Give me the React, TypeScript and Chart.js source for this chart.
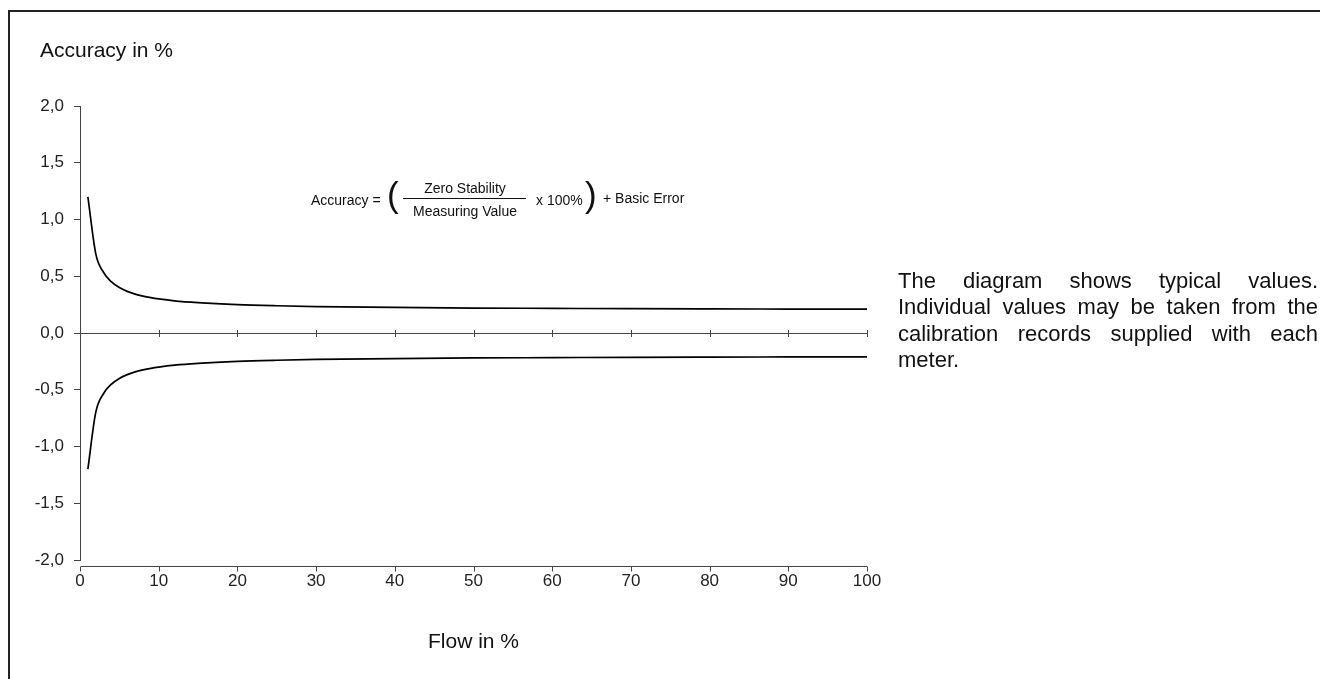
import React, { useEffect, useRef } from "react";
import { Chart, registerables } from "chart.js";

Chart.register(...registerables);

// ---- data ----
const flowPct = [1, 2, 3, 4, 5, 6, 7, 8, 9, 10, 12, 15, 20, 25, 30, 40, 50, 60, 70, 80, 90, 100];
const upperAccuracy = [1.2, 0.7, 0.533, 0.45, 0.4, 0.367, 0.343, 0.325, 0.311, 0.3, 0.283, 0.267, 0.25, 0.24, 0.233, 0.225, 0.22, 0.217, 0.214, 0.212, 0.211, 0.21];
const lowerAccuracy = [-1.2, -0.7, -0.533, -0.45, -0.4, -0.367, -0.343, -0.325, -0.311, -0.3, -0.283, -0.267, -0.25, -0.24, -0.233, -0.225, -0.22, -0.217, -0.214, -0.212, -0.211, -0.21];
const xTickValues = [0, 10, 20, 30, 40, 50, 60, 70, 80, 90, 100];
const yTickValues = [-2, -1.5, -1, -0.5, 0, 0.5, 1, 1.5, 2];
const yAxisTitle = "Accuracy in %";
const xAxisTitle = "Flow in %";
const noteText =
  "The diagram shows typical values. Individual values may be taken from the calibration records supplied with each meter.";

const FONT = '"Liberation Sans", Arial, Helvetica, sans-serif';

const excelAxesPlugin = {
  id: "excelAxes",
  afterDraw(chart: any) {
    const { ctx, chartArea, scales } = chart;
    const xs = scales.x;
    const ys = scales.y;
    ctx.save();
    ctx.strokeStyle = "#444";
    ctx.lineWidth = 1;
    ctx.beginPath();
    // zero axis with crossing ticks
    const y0 = Math.round(ys.getPixelForValue(0)) + 0.5;
    ctx.moveTo(chartArea.left, y0);
    ctx.lineTo(chartArea.right, y0);
    xs.ticks.forEach((t: any) => {
      const px = Math.round(xs.getPixelForValue(t.value)) + 0.5;
      ctx.moveTo(px, y0 - 3.5);
      ctx.lineTo(px, y0 + 3.5);
    });
    // bottom category axis, slightly detached from the value axis
    const yb = Math.round(chartArea.bottom) + 6.5;
    ctx.moveTo(chartArea.left + 1, yb);
    ctx.lineTo(chartArea.right, yb);
    xs.ticks.forEach((t: any) => {
      const px = Math.round(xs.getPixelForValue(t.value)) + 0.5;
      ctx.moveTo(px, yb);
      ctx.lineTo(px, yb + 5);
    });
    ctx.stroke();
    ctx.restore();
  },
};

function fmt(v: number) {
  return v.toFixed(1).replace(".", ",");
}

export default function App() {
  const canvasRef = useRef<HTMLCanvasElement | null>(null);

  useEffect(() => {
    if (!canvasRef.current) return;
    Chart.defaults.font.family = FONT;
    const chart = new Chart(canvasRef.current, {
      type: "line",
      data: {
        datasets: [
          {
            label: "upper",
            data: flowPct.map((x, i) => ({ x, y: upperAccuracy[i] })),
            borderColor: "#000",
            borderWidth: 1.7,
            pointRadius: 0,
            cubicInterpolationMode: "monotone",
            fill: false,
          },
          {
            label: "lower",
            data: flowPct.map((x, i) => ({ x, y: lowerAccuracy[i] })),
            borderColor: "#000",
            borderWidth: 1.7,
            pointRadius: 0,
            cubicInterpolationMode: "monotone",
            fill: false,
          },
        ],
      },
      options: {
        animation: false,
        responsive: false,
        events: [],
        layout: { padding: { left: 0, top: 106, right: 453, bottom: 24 } },
        plugins: {
          legend: { display: false },
          tooltip: { enabled: false },
          title: { display: false },
        },
        scales: {
          x: {
            type: "linear",
            min: 0,
            max: 100,
            afterBuildTicks: (s: any) => {
              s.ticks = xTickValues.map((v) => ({ value: v }));
            },
            afterFit: (s: any) => {
              s.height = 95;
            },
            grid: { display: false, drawTicks: false },
            border: { display: false },
            ticks: {
              color: "#222",
              font: { family: FONT, size: 17 },
              padding: 11,
              maxRotation: 0,
              autoSkip: false,
            },
            title: {
              display: true,
              text: xAxisTitle,
              color: "#111",
              font: { family: FONT, size: 21 },
              padding: { top: 0, bottom: 0 },
            },
          },
          y: {
            type: "linear",
            min: -2,
            max: 2,
            afterBuildTicks: (s: any) => {
              s.ticks = yTickValues.map((v) => ({ value: v }));
            },
            afterFit: (s: any) => {
              s.width = 80;
            },
            grid: { display: true, drawOnChartArea: false, drawTicks: true, tickLength: 6, color: "#444" },
            border: { display: true, color: "#444", width: 1 },
            ticks: {
              color: "#222",
              font: { family: FONT, size: 17 },
              padding: 10,
              callback: (v: any) => fmt(Number(v)),
            },
          },
        },
      },
      plugins: [excelAxesPlugin],
    } as any);
    return () => chart.destroy();
  }, []);

  const txt = (extra: React.CSSProperties): React.CSSProperties => ({
    position: "absolute",
    fontFamily: FONT,
    color: "#111",
    whiteSpace: "nowrap",
    ...extra,
  });

  return (
    <div
      style={{
        position: "fixed",
        left: 0,
        top: 0,
        width: 1320,
        height: 679,
        overflow: "hidden",
        background: "#fff",
      }}
    >
      <div
        style={{
          position: "absolute",
          left: 8,
          top: 10,
          width: 1400,
          height: 800,
          border: "2px solid #222",
          boxSizing: "border-box",
        }}
      />
      <canvas
        ref={canvasRef}
        width={1320}
        height={679}
        style={{ position: "absolute", left: 0, top: 0, width: 1320, height: 679, display: "block" }}
      />
      <div style={txt({ left: 40, top: 37, fontSize: 21, lineHeight: "25px" })}>{yAxisTitle}</div>

      {/* formula */}
      <div style={txt({ left: 311, top: 192, fontSize: 14, lineHeight: "16px" })}>Accuracy =</div>
      <div style={txt({ left: 387, top: 175, fontSize: 35, lineHeight: "40px" })}>(</div>
      <div style={txt({ left: 403, top: 180, width: 124, textAlign: "center", fontSize: 14, lineHeight: "16px" })}>
        Zero Stability
      </div>
      <div style={{ position: "absolute", left: 403, top: 198, width: 123, height: 1, background: "#111" }} />
      <div style={txt({ left: 403, top: 203, width: 124, textAlign: "center", fontSize: 14, lineHeight: "16px" })}>
        Measuring Value
      </div>
      <div style={txt({ left: 536, top: 192, fontSize: 14, lineHeight: "16px" })}>x 100%</div>
      <div style={txt({ left: 585, top: 175, fontSize: 35, lineHeight: "40px" })}>)</div>
      <div style={txt({ left: 603, top: 190, fontSize: 14, lineHeight: "16px" })}>+ Basic Error</div>

      {/* note */}
      <div
        style={{
          position: "absolute",
          left: 898,
          top: 268,
          width: 420,
          fontFamily: FONT,
          fontSize: 22,
          lineHeight: "26.3px",
          color: "#111",
          textAlign: "justify",
        }}
      >
        {noteText}
      </div>
    </div>
  );
}
